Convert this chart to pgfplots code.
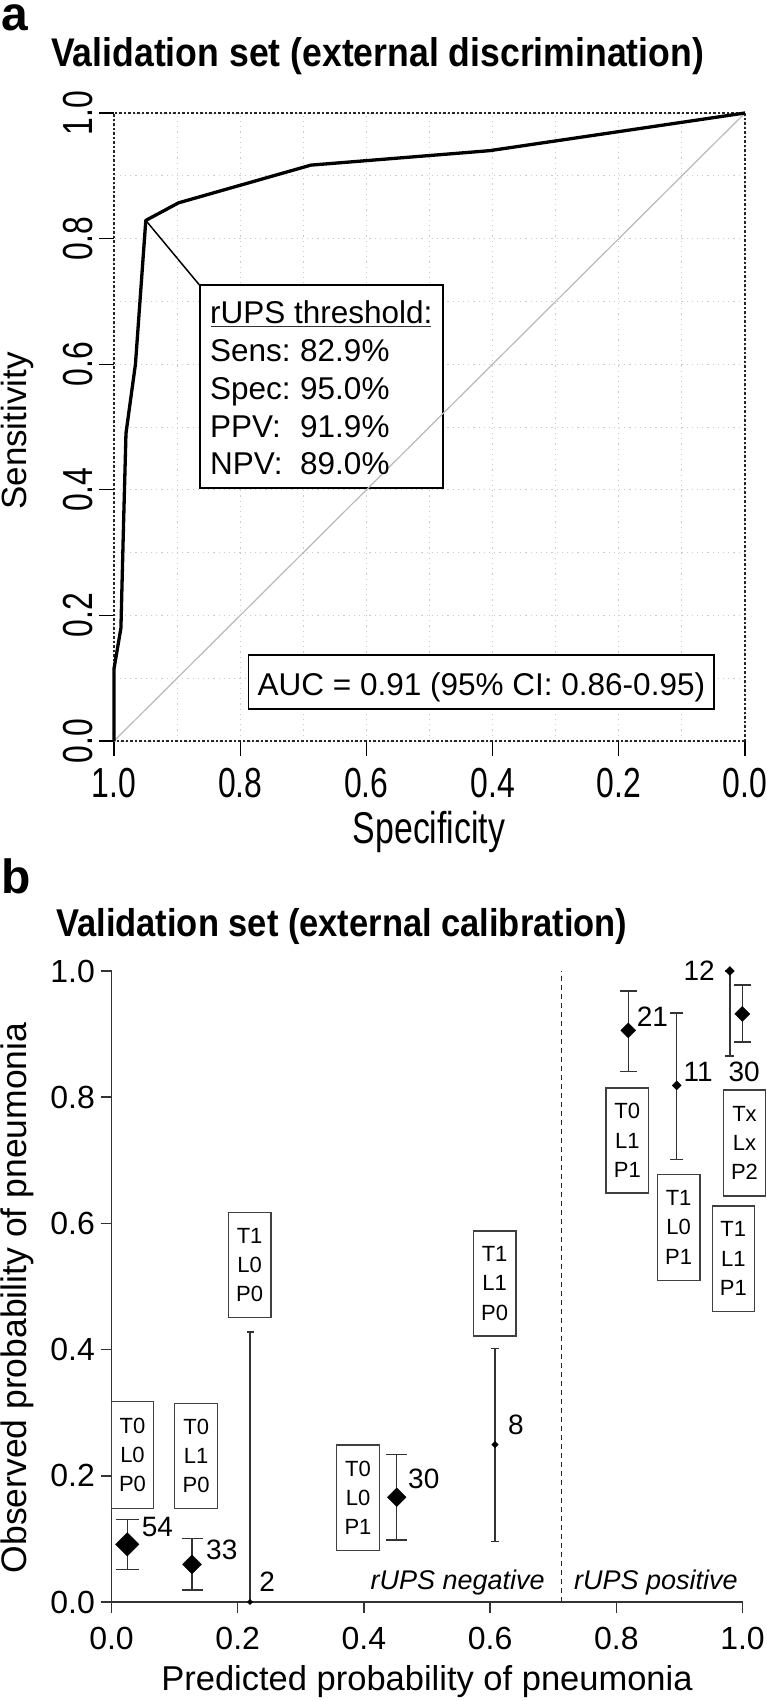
\documentclass[border=0pt]{standalone}
\usepackage{fontspec}
\setmainfont{Liberation Sans}
\newfontfamily\condfont{Liberation Sans}[FakeStretch=0.76]
\newfontfamily\titlefont{Liberation Sans}[FakeStretch=0.89]
\usepackage{pgfplots}
\pgfplotsset{compat=1.18}
\pgfplotsset{
  calpt/.style n args={2}{only marks, mark=square*, mark size=#1,
    mark options={rotate=45, solid, fill=black, draw=black, line width=0.4pt},
    error bars/.cd, y dir=both, y explicit,
    error bar style={line width=1.5pt, black!80},
    error mark options={rotate=90, mark size=#2, line width=1.5pt, black!80}},
}
\begin{document}
\begin{tikzpicture}
\useasboundingbox (0pt,0pt) rectangle (767pt,-1701pt);

%%%%%%%%%%%%%%%% Panel a %%%%%%%%%%%%%%%%
\begin{axis}[
  at={(114pt,-741pt)}, anchor=south west, scale only axis,
  width=631pt, height=628pt,
  xmin=0, xmax=1, ymin=0, ymax=1, x dir=reverse, clip=false,
  axis line style={black!85, line width=1.2pt, dash pattern=on 2.5pt off 2pt},
  xtick={0,0.2,0.4,0.6,0.8,1}, ytick={0,0.2,0.4,0.6,0.8,1},
  xticklabels={0.0,0.2,0.4,0.6,0.8,1.0}, yticklabels={0.0,0.2,0.4,0.6,0.8,1.0},
  minor xtick={0.1,0.3,0.5,0.7,0.9}, minor ytick={0.1,0.3,0.5,0.7,0.9},
  grid=both,
  major grid style={gray!40, line width=1pt, dash pattern=on 1.2pt off 4pt},
  minor grid style={gray!40, line width=1pt, dash pattern=on 1.2pt off 4pt},
  minor tick length=0pt, major tick length=14.5pt, tick align=outside,
  xtick pos=left, ytick pos=left,
  major tick style={solid, black, line width=1.2pt},
  xticklabel style={font=\condfont\fontsize{42}{42}\selectfont, anchor=north, inner sep=0pt},
  yticklabel style={font=\condfont\fontsize{42}{42}\selectfont, rotate=90, anchor=south, inner sep=0pt},
  xticklabel shift=12pt, yticklabel shift=6.5pt,
]
% threshold box (white, hides grid)
\addplot[draw=black, line width=1.8pt, fill=white] coordinates
  {(0.8643,0.7258) (0.4789,0.7258) (0.4789,0.4027) (0.8643,0.4027)} -- cycle;
% AUC box
\addplot[draw=black, line width=1.8pt, fill=white] coordinates
  {(0.7868,0.1369) (0.0487,0.1369) (0.0487,0.0505) (0.7868,0.0505)} -- cycle;
% chance diagonal
\addplot[gray!55, line width=1.2pt] coordinates {(1,0) (0,1)};
% ROC curve
\addplot[black, line width=3.3pt, line join=round] coordinates {
  (1.000,0.000) (1.000,0.115) (0.989,0.180) (0.985,0.340) (0.981,0.490)
  (0.966,0.600) (0.9496,0.829) (0.8976,0.857) (0.688,0.917) (0.405,0.940)
  (0.000,1.000)};
% pointer to threshold
\addplot[black, line width=1.5pt] coordinates {(0.9496,0.829) (0.8643,0.7258)};
\end{axis}

\node[anchor=base west, inner sep=0pt, font=\bfseries\fontsize{48}{48}\selectfont] at (1pt,-30pt) {a};
\node[anchor=base west, inner sep=0pt, font=\titlefont\bfseries\fontsize{40}{40}\selectfont] at (51pt,-66pt) {Validation set (external discrimination)};
\node[anchor=base, inner sep=0pt, font=\condfont\fontsize{44.5}{44.5}\selectfont] at (429pt,-843pt) {Specificity};
\node[anchor=base, rotate=90, inner sep=0pt, font=\fontsize{35}{35}\selectfont] at (27pt,-431pt) {Sensitivity};

\begin{scope}[every node/.style={anchor=base west, inner sep=0pt, font=\fontsize{31.5}{31.5}\selectfont}]
\node at (210pt,-323pt) {rUPS threshold:};
\draw[black!80, line width=1pt] (210.7pt,-326pt) -- (430.7pt,-326pt);
\node at (210pt,-361pt) {Sens:};  \node at (300pt,-361pt) {82.9\%};
\node at (210pt,-399pt) {Spec:};  \node at (300pt,-399pt) {95.0\%};
\node at (210pt,-437pt) {PPV:};   \node at (300pt,-437pt) {91.9\%};
\node at (210pt,-474pt) {NPV:};   \node at (300pt,-474pt) {89.0\%};
\end{scope}
\node[anchor=base, inner sep=0pt, font=\fontsize{31.5}{31.5}\selectfont] at (481.4pt,-695pt) {AUC = 0.91 (95\% CI: 0.86-0.95)};

%%%%%%%%%%%%%%%% Panel b %%%%%%%%%%%%%%%%
\node[anchor=base west, inner sep=0pt, font=\bfseries\fontsize{48}{48}\selectfont] at (1pt,-893pt) {b};
\node[anchor=base west, inner sep=0pt, font=\titlefont\bfseries\fontsize{38.75}{38.75}\selectfont] at (56pt,-936pt) {Validation set (external calibration)};

\begin{axis}[
  at={(111.5pt,-1602pt)}, anchor=south west, scale only axis,
  width=631pt, height=631pt,
  xmin=0, xmax=1, ymin=0, ymax=1, clip=false,
  axis x line*=bottom, axis y line*=left,
  axis line style={-, black!80, line width=1.5pt},
  xtick={0,0.2,0.4,0.6,0.8,1}, ytick={0,0.2,0.4,0.6,0.8,1},
  xticklabels={0.0,0.2,0.4,0.6,0.8,1.0}, yticklabels={0.0,0.2,0.4,0.6,0.8,1.0},
  tick align=outside, major tick length=11pt,
  major tick style={black!80, line width=1.5pt},
  xticklabel style={font=\fontsize{32}{32}\selectfont, anchor=north, inner sep=0pt},
  yticklabel style={font=\fontsize{32}{32}\selectfont, anchor=east, inner sep=0pt},
  xticklabel shift=14pt, yticklabel shift=5.5pt,
]
% rUPS threshold
\addplot[black!85, line width=1.5pt, dash pattern=on 5pt off 4pt] coordinates {(0.713,0) (0.713,1)};
% groups: predicted, observed, +upper, -lower
\addplot[calpt={8.3pt}{11.5pt}] coordinates {(0.025,0.0914) += (0,0.0396) -= (0,0.0396)};
\addplot[calpt={6.7pt}{10.5pt}] coordinates {(0.1276,0.0597) += (0,0.0413) -= (0,0.0407)};
\addplot[calpt={1.8pt}{3.5pt}]  coordinates {(0.2195,0.0) += (0,0.428) -= (0,0.0)};
\addplot[calpt={6.6pt}{10.5pt}] coordinates {(0.452,0.166) += (0,0.068) -= (0,0.068)};
\addplot[calpt={2.3pt}{4pt}]    coordinates {(0.6078,0.2494) += (0,0.1526) -= (0,0.1532)};
\addplot[calpt={5.3pt}{8.5pt}]  coordinates {(0.819,0.906) += (0,0.062) -= (0,0.0653)};
\addplot[calpt={3.2pt}{6.5pt}]  coordinates {(0.8957,0.8187) += (0,0.1149) -= (0,0.1177)};
\addplot[calpt={3.2pt}{4.5pt}]  coordinates {(0.980,1.0) += (0,0.0) -= (0,0.135)};
\addplot[calpt={5.3pt}{8.5pt}]  coordinates {(0.9997,0.932) += (0,0.046) -= (0,0.0445)};

\begin{scope}[every node/.style={inner sep=0pt, font=\fontsize{28}{28}\selectfont}]
\node[anchor=west] at (axis cs:0.0479,0.1194) {54};
\node[anchor=west] at (axis cs:0.1498,0.0824) {33};
\node[anchor=west] at (axis cs:0.2342,0.0322) {2};
\node[anchor=west] at (axis cs:0.4699,0.1946) {30};
\node[anchor=west] at (axis cs:0.6284,0.2805) {8};
\node[anchor=west] at (axis cs:0.8323,0.9270) {21};
\node[anchor=west] at (axis cs:0.9062,0.8407) {11};
\node[anchor=east] at (axis cs:0.9564,1.0008) {12};
\node[anchor=center] at (axis cs:1.0027,0.8407) {30};
\end{scope}
\end{axis}

% group boxes
\begin{scope}[every node/.style={align=center, inner sep=0pt, font=\fontsize{22}{29.3}\selectfont}]
\draw[black!75, line width=1.5pt] (111.7pt,-1401.7pt) rectangle (153.3pt,-1508.3pt);
\node at (132.5pt,-1455pt) {T0\\L0\\P0};
\draw[black!75, line width=1.5pt] (174.7pt,-1403.3pt) rectangle (217.7pt,-1508.3pt);
\node at (196.2pt,-1455.8pt) {T0\\L1\\P0};
\draw[black!75, line width=1.5pt] (228.3pt,-1212.3pt) rectangle (271pt,-1317.7pt);
\node at (249.6pt,-1265pt) {T1\\L0\\P0};
\draw[black!75, line width=1.5pt] (336.7pt,-1445pt) rectangle (379.3pt,-1550.7pt);
\node at (358pt,-1497.8pt) {T0\\L0\\P1};
\draw[black!75, line width=1.5pt] (473.3pt,-1231pt) rectangle (516pt,-1336pt);
\node at (494.6pt,-1283.5pt) {T1\\L1\\P0};
\draw[black!75, line width=1.5pt] (606pt,-1088pt) rectangle (648.7pt,-1193pt);
\node at (627.3pt,-1140.5pt) {T0\\L1\\P1};
\draw[black!75, line width=1.5pt] (657.3pt,-1174.3pt) rectangle (700pt,-1280.6pt);
\node at (678.6pt,-1227.4pt) {T1\\L0\\P1};
\draw[black!75, line width=1.5pt] (712.3pt,-1206pt) rectangle (754.3pt,-1311.4pt);
\node at (733.3pt,-1258.7pt) {T1\\L1\\P1};
\draw[black!75, line width=1.5pt] (723.3pt,-1090pt) rectangle (765.7pt,-1196pt);
\node at (744.5pt,-1143pt) {Tx\\Lx\\P2};
\end{scope}

\node[anchor=base east, inner sep=0pt, font=\itshape\fontsize{27}{27}\selectfont] at (545pt,-1589.5pt) {rUPS negative};
\node[anchor=base west, inner sep=0pt, font=\itshape\fontsize{27}{27}\selectfont] at (574pt,-1589.5pt) {rUPS positive};

\node[anchor=base, inner sep=0pt, font=\fontsize{34.5}{34.5}\selectfont] at (427pt,-1690pt) {Predicted probability of pneumonia};
\node[anchor=base, rotate=90, inner sep=0pt, font=\fontsize{35.5}{35.5}\selectfont] at (27pt,-1298pt) {Observed probability of pneumonia};
\end{tikzpicture}
\end{document}
